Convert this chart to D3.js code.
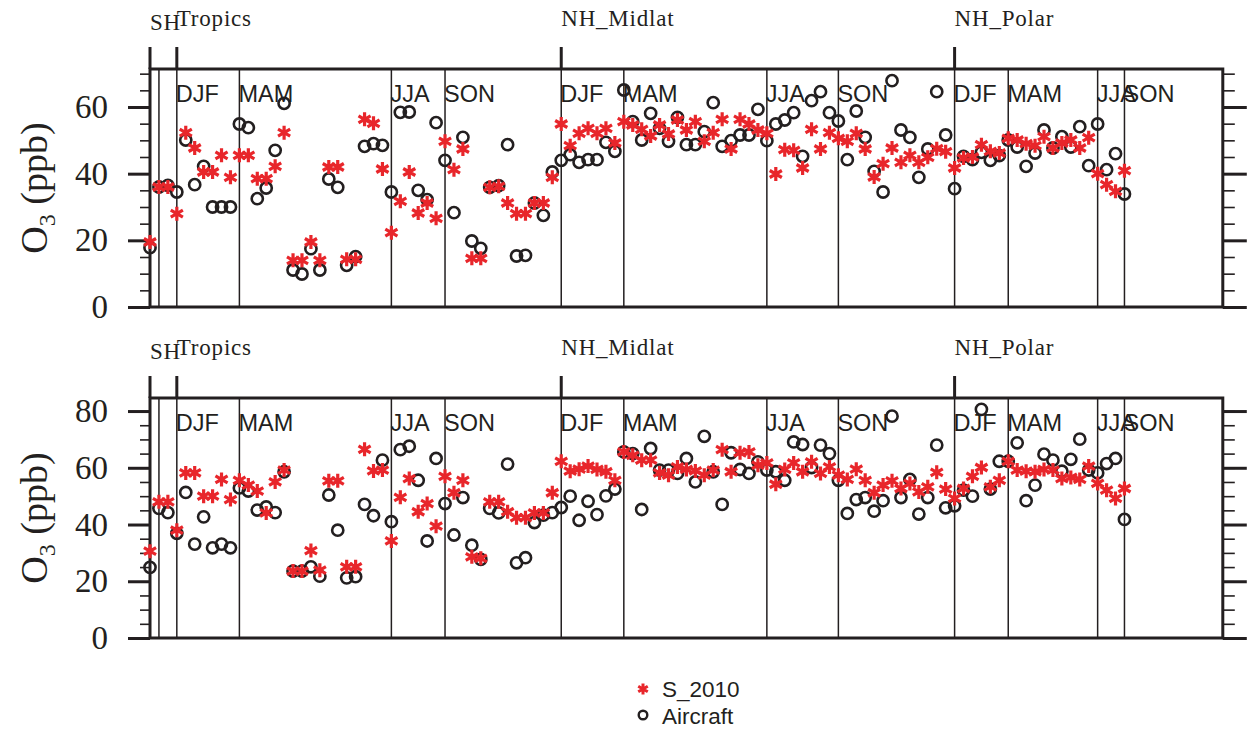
<!DOCTYPE html>
<html>
<head>
<meta charset="utf-8">
<script src="https://cdn.jsdelivr.net/npm/d3@7"></script>
<style>
  body { margin: 0; background: #fff; }
  svg { display: block; }
</style>
</head>
<body>
<script>
// Station/time index along the x axis (one per point)
const pointIndex = d3.range(110);

// Upper panel: O3 (ppb)
const upperModel = [
  19.5, 36, 36, 28, 52.3, 47.7, 40.5, 40.5, 45.5, 38.9,
  45.5, 45.5, 38.5, 38.5, 42.2, 52.3, 14, 14, 19.5, 14,
  42, 42, 14.3, 14.3, 56.3, 55.1, 41.4, 22.3, 31.7, 40.5,
  28.2, 31.2, 26.6, 49.7, 41.2, 47.4, 14.6, 14.6, 35.9, 36.2,
  31.2, 28, 28, 31.2, 31.2, 38.9, 54.9, 48.4, 52.1, 53.6,
  52.1, 53.6, 49.2, 55.6, 54.6, 53.3, 51.3, 54.6, 51.9, 56.1,
  53.1, 55.6, 49.7, 52.3, 56.3, 47.4, 56.3, 54.9, 53.1, 52.1,
  39.9, 47.2, 47, 41.7, 53.3, 47.4, 52.3, 50.6, 49.7, 52.1,
  47.4, 39, 43, 47.7, 43.4, 45.5, 43.4, 44.9, 47.5, 46.6,
  41.7, 44.7, 45, 48.7, 46.7, 46.2, 50.6, 50.1, 49, 48.4,
  51.1, 47.7, 49.2, 50.1, 47.7, 50.8, 40, 36.7, 34.7, 40.9
];
const upperAircraft = [
  17.8, 36, 36.5, 34.5, 50.1, 36.7, 42.2, 30, 30, 30,
  54.9, 53.8, 32.5, 35.7, 47, 61.1, 11.1, 9.9, 17.5, 11.1,
  38.4, 35.9, 12.5, 15.1, 48.2, 49, 48.5, 34.5, 58.4, 58.5,
  35, 32.2, 55.3, 44, 28.3, 50.9, 19.8, 17.6, 35.9, 36.4,
  48.7, 15.3, 15.5, 31.2, 27.5, 40.5, 44, 45.7, 43.4, 44.2,
  44.2, 49.4, 46.7, 65.1, 55.6, 50.1, 58.1, 53.6, 49.7, 56.9,
  48.7, 48.7, 52.6, 61.3, 48.2, 49.9, 51.6, 51.6, 59.3, 49.9,
  54.9, 56.1, 58.3, 45.2, 61.9, 64.6, 58.3, 55.8, 44.2, 58.8,
  50.9, 40.7, 34.5, 67.9, 53.1, 50.9, 38.9, 47.4, 64.6, 51.6,
  35.5, 45.2, 44.2, 46.4, 44, 45.4, 50.1, 48, 42.2, 46.2,
  53.1, 47.7, 51.1, 48, 54.1, 42.4, 54.9, 41.2, 46, 33.9
];

// Lower panel: O3 (ppb)
const lowerModel = [
  30.6, 48, 48, 38, 58.2, 58.2, 50, 50, 55.9, 48.8,
  55.6, 53.9, 51.8, 44.1, 55, 59.2, 23.6, 23.6, 30.8, 23.9,
  55.4, 55.4, 25.1, 25.1, 66.5, 58.9, 59.2, 34.2, 49.6, 56.2,
  44.5, 47.4, 39.4, 57, 51.2, 55.6, 28.6, 28.1, 48, 48,
  44.5, 42.4, 42.4, 44.1, 44.1, 51.2, 62.3, 58.8, 59.5, 60.6,
  59.4, 58.6, 55.6, 65.6, 64.4, 62.7, 62.7, 58.2, 57.4, 60.3,
  59.4, 58.9, 57.4, 59.2, 66.4, 58.6, 65.3, 65.6, 60.9, 61.7,
  54.2, 59.4, 61.7, 58.6, 62.1, 58, 60.3, 57.4, 55.9, 59.5,
  55.6, 51.2, 53.9, 55.4, 52.7, 54.5, 51.5, 53.3, 58.4, 52.5,
  49.2, 52.7, 57, 60.1, 53.3, 55.6, 62.3, 59.2, 58.8, 58.6,
  59.4, 59.2, 56.2, 56.6, 55.9, 60.6, 54.5, 52.1, 49.2, 52.7
];
const lowerAircraft = [
  24.9, 45.7, 44.2, 36.9, 51.3, 33.1, 42.7, 31.8, 33.1, 31.8,
  52.9, 51.8, 45.1, 46.2, 44.2, 58.6, 23.6, 23.6, 25.1, 21.8,
  50.4, 38, 21.2, 21.6, 47.1, 43.1, 62.7, 41, 66.4, 67.6,
  55.6, 34.2, 63.3, 47.4, 36.3, 49.5, 32.7, 27.7, 45.7, 44.1,
  61.3, 26.5, 28.3, 40.7, 43.3, 44.2, 46, 50, 41.5, 48.2,
  43.5, 50.1, 52.5, 65.6, 65, 45.3, 66.8, 59.2, 59.2, 58,
  63.3, 55, 71.1, 58.6, 47.1, 65.3, 59.4, 58, 62.1, 59.2,
  58.6, 55.6, 69.1, 68.2, 60.1, 68, 65, 55.6, 43.9, 48.8,
  49.5, 44.7, 48.4, 78.2, 49.5, 55.9, 43.7, 49.5, 68, 45.9,
  46.6, 52.1, 50, 80.6, 52.5, 62.3, 62.3, 68.8, 48.4, 53.9,
  64.8, 62.7, 58.8, 63, 70.1, 59.2, 58.2, 61.5, 63.3, 41.8
];

// Season boundaries (index where each season block starts) and their labels
const seasonStarts = [0, 1, 3, 10, 27, 33, 46, 53, 69, 77, 90, 96, 106, 109];
const seasonNames = ["", "", "DJF", "MAM", "JJA", "SON", "DJF", "MAM", "JJA", "SON", "DJF", "MAM", "JJA", "SON"];

// Latitude regions
const regionStarts = [0, 3, 46, 90];
const regionNames = ["SH", "Tropics", "NH_Midlat", "NH_Polar"];

// Tick values
const upperTicks = [0, 20, 40, 60];
const lowerTicks = [0, 20, 40, 60, 80];
const upperMinor = d3.range(0, 71, 5);
const lowerMinor = d3.range(0, 81, 5);

const seriesNames = ["S_2010", "Aircraft"];

const W = 1249, H = 731;
const INK = "#231f20";
const RED = "#e8262b";

const svg = d3.select("body").append("svg")
  .attr("width", W).attr("height", H)
  .attr("viewBox", `0 0 ${W} ${H}`);
svg.append("rect").attr("width", W).attr("height", H).attr("fill", "#fff");

const x = d3.scaleLinear().domain([0, 120]).range([150, 1222.8]);

// asterisk marker: vertical stroke plus two diagonals
function asterisk(r) {
  const c = r * Math.cos(Math.PI / 6), s = r * Math.sin(Math.PI / 6);
  return `M0,${-r}L0,${r}M${-c},${-s}L${c},${s}M${-c},${s}L${c},${-s}`;
}

const panels = [
  { top: 69, bottom: 307, ymax: 71.4, ticks: upperTicks, minor: upperMinor, model: upperModel, aircraft: upperAircraft },
  { top: 398, bottom: 638, ymax: 84.6, ticks: lowerTicks, minor: lowerMinor, model: lowerModel, aircraft: lowerAircraft }
];

panels.forEach(p => {
  const g = svg.append("g");
  const y = d3.scaleLinear().domain([0, p.ymax]).range([p.bottom, p.top]);
  const x0 = x.range()[0], x1 = x.range()[1];

  // season separators
  g.append("g").selectAll("line").data(seasonStarts).join("line")
    .attr("x1", d => x(d)).attr("x2", d => x(d))
    .attr("y1", p.top).attr("y2", p.bottom)
    .attr("stroke", INK).attr("stroke-width", 1.5);

  // season labels
  g.append("g").selectAll("text").data(seasonStarts.map((s, i) => ({ s, name: seasonNames[i] })).filter(d => d.name))
    .join("text")
    .attr("x", d => x(d.s) - 1)
    .attr("y", p.top + 33)
    .attr("font-family", "'Liberation Sans', Arial, sans-serif")
    .attr("font-size", 23.5)
    .attr("fill", INK)
    .text(d => d.name);

  // region separators above the frame
  g.append("g").selectAll("line").data(regionStarts).join("line")
    .attr("x1", d => x(d)).attr("x2", d => x(d))
    .attr("y1", p.top - 22).attr("y2", p.top)
    .attr("stroke", INK).attr("stroke-width", 3);

  // region labels
  g.append("g").selectAll("text").data(regionStarts.map((s, i) => ({ s, name: regionNames[i], i })))
    .join("text")
    .attr("x", d => x(d.s))
    .attr("y", d => d.i === 0 ? p.top - 39 : p.top - 43)
    .attr("font-family", "'Liberation Serif', 'Times New Roman', serif")
    .attr("font-size", 23)
    .attr("letter-spacing", 0.8)
    .attr("fill", INK)
    .text(d => d.name);

  // axes: left (labelled) and right, major + minor ticks pointing outward
  const leftMajor = g.append("g").attr("transform", `translate(${x0},0)`)
    .call(d3.axisLeft(y).tickValues(p.ticks).tickSize(22).tickPadding(20).tickFormat(d3.format("d")));
  const leftMinor = g.append("g").attr("transform", `translate(${x0},0)`)
    .call(d3.axisLeft(y).tickValues(p.minor).tickSize(10).tickFormat(""));
  const rightMajor = g.append("g").attr("transform", `translate(${x1},0)`)
    .call(d3.axisRight(y).tickValues(p.ticks).tickSize(24).tickFormat(""));
  const rightMinor = g.append("g").attr("transform", `translate(${x1},0)`)
    .call(d3.axisRight(y).tickValues(p.minor).tickSize(12).tickFormat(""));
  [leftMajor, leftMinor, rightMajor, rightMinor].forEach(a => {
    a.select(".domain").remove();
    a.selectAll(".tick line").attr("stroke", INK);
  });
  [leftMajor, rightMajor].forEach(a => a.selectAll(".tick line").attr("stroke-width", 3));
  [leftMinor, rightMinor].forEach(a => a.selectAll(".tick line").attr("stroke-width", 1.6));
  leftMajor.selectAll(".tick text")
    .attr("font-family", "'Liberation Serif', 'Times New Roman', serif")
    .attr("font-size", 33)
    .attr("fill", INK);

  // frame
  g.append("rect")
    .attr("x", x0).attr("y", p.top)
    .attr("width", x1 - x0).attr("height", p.bottom - p.top)
    .attr("fill", "none").attr("stroke", INK).attr("stroke-width", 3);

  // y-axis title
  const title = g.append("text")
    .attr("transform", `translate(47,${(p.top + p.bottom) / 2}) rotate(-90)`)
    .attr("text-anchor", "middle")
    .attr("font-family", "'Liberation Serif', 'Times New Roman', serif")
    .attr("font-size", 38)
    .attr("fill", INK);
  title.append("tspan").text("O");
  title.append("tspan").attr("font-size", 24).attr("dy", 8).text("3");
  title.append("tspan").attr("dy", -8).text(" (ppb)");

  // observations (open circles)
  g.append("g").selectAll("circle").data(pointIndex).join("circle")
    .attr("cx", i => x(i)).attr("cy", i => y(p.aircraft[i]))
    .attr("r", 5.6)
    .attr("fill", "none").attr("stroke", INK).attr("stroke-width", 2.6);

  // model (red asterisks)
  g.append("g").selectAll("path").data(pointIndex).join("path")
    .attr("transform", i => `translate(${x(i)},${y(p.model[i])})`)
    .attr("d", asterisk(7))
    .attr("fill", "none").attr("stroke", RED).attr("stroke-width", 3.2);
});

// legend
const legend = svg.append("g");
legend.append("path")
  .attr("transform", "translate(643,689)")
  .attr("d", asterisk(5.5))
  .attr("fill", "none").attr("stroke", RED).attr("stroke-width", 3);
legend.append("circle")
  .attr("cx", 643).attr("cy", 715).attr("r", 4.3)
  .attr("fill", "none").attr("stroke", INK).attr("stroke-width", 2.4);
legend.selectAll("text").data(seriesNames).join("text")
  .attr("x", 662)
  .attr("y", (d, i) => 697 + i * 27)
  .attr("font-family", "'Liberation Sans', Arial, sans-serif")
  .attr("font-size", 22.5)
  .attr("fill", INK)
  .text(d => d);
</script>
</body>
</html>
